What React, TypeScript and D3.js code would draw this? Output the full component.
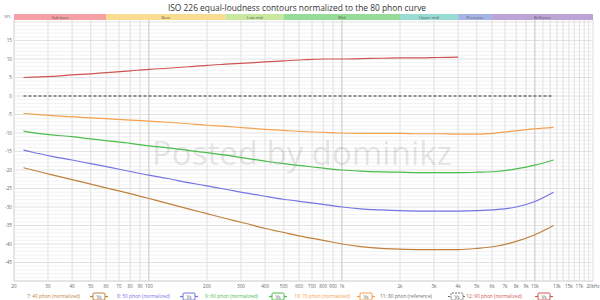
import React from "react";
import * as d3 from "d3";

const freqs = [22.4, 25, 31.5, 40, 50, 63, 80, 100, 125, 160, 200, 250, 315, 400, 500, 630, 800, 1000, 1250, 1600, 2000, 2500, 3150, 4000, 5000, 6300, 8000, 10000, 12500];

const phon40 = [-19.4, -20.0, -21.3, -22.6, -23.8, -25.1, -26.4, -27.7, -29.0, -30.5, -31.8, -33.1, -34.4, -35.8, -36.9, -38.0, -39.0, -40.0, -40.7, -41.2, -41.4, -41.5, -41.5, -41.5, -41.2, -40.6, -39.3, -37.5, -35.0];
const phon50 = [-14.6, -15.2, -16.3, -17.3, -18.3, -19.3, -20.4, -21.4, -22.3, -23.4, -24.3, -25.2, -26.2, -27.1, -27.9, -28.6, -29.3, -30.0, -30.5, -30.8, -31.0, -31.1, -31.1, -31.1, -31.0, -30.7, -30.0, -28.5, -26.0];
const phon60 = [-9.5, -9.9, -10.5, -11.0, -11.6, -12.2, -12.8, -13.5, -14.0, -14.7, -15.3, -16.0, -16.8, -17.6, -18.3, -18.9, -19.5, -20.0, -20.3, -20.5, -20.6, -20.7, -20.7, -20.7, -20.6, -20.4, -19.7, -18.7, -17.3];
const phon70 = [-4.7, -4.9, -5.3, -5.6, -5.9, -6.2, -6.5, -6.8, -7.1, -7.5, -7.9, -8.2, -8.6, -9.0, -9.3, -9.6, -9.8, -10.0, -10.1, -10.1, -10.1, -10.2, -10.2, -10.3, -10.3, -10.0, -9.4, -8.9, -8.5];
const phon80 = [0, 0, 0, 0, 0, 0, 0, 0, 0, 0, 0, 0, 0, 0, 0, 0, 0, 0, 0, 0, 0, 0, 0, 0, 0, 0, 0, 0, 0];
const phon90 = [5.0, 5.1, 5.3, 5.7, 6.0, 6.4, 6.8, 7.2, 7.5, 7.9, 8.3, 8.6, 8.9, 9.2, 9.5, 9.8, 10.0, 10.0, 10.1, 10.2, 10.3, 10.3, 10.4, 10.5];

const seriesNames = ["7: 40 phon (normalized)", "8: 50 phon (normalized)", "9: 60 phon (normalized)", "10: 70 phon (normalized)", "11: 80 phon (reference)", "12: 90 phon (normalized)"];
const seriesValues = [phon40, phon50, phon60, phon70, phon80, phon90];
const seriesColors = ["#c0803c", "#7474e4", "#4cbc4c", "#f4a04c", "#707070", "#d05454"];

const bandNames = ["Sub bass", "Bass", "Low mid", "Mid", "Upper mid", "Presence", "Brilliance"];
const bandEdges = [20, 60, 250, 500, 2000, 4000, 6000, 20000];
const bandColors = ["#f4a0a4", "#f8dc90", "#c8e8a0", "#94dc98", "#98dcd4", "#a4b4e4", "#bca4d4"];

const xTickValues = [20, 30, 40, 50, 60, 70, 80, 90, 100, 200, 300, 400, 500, 600, 700, 800, 900, 1000, 2000, 3000, 4000, 5000, 6000, 7000, 8000, 9000, 10000, 13000, 15000, 17000, 20000];
const xTickLabels = ["20", "30", "40", "50", "60", "70", "80", "90", "100", "200", "300", "400", "500", "600", "700", "800", "900", "1k", "2k", "3k", "4k", "5k", "6k", "7k", "8k", "9k", "10k", "13k", "15k", "17k", "20kHz"];
const yTickValues = [15, 10, 5, 0, -5, -10, -15, -20, -25, -30, -35, -40, -45];

export default function App() {
  const W = 600, H = 300;
  const x = d3.scaleLog().domain([20, 20000]).range([14, 593]);
  const y = d3.scaleLinear().domain([-50, 20]).range([281, 22]);

  const gridFreqs: number[] = [];
  [10, 100, 1000, 10000].forEach((dec) => {
    for (let k = 1; k <= 9; k++) {
      const f = dec * k;
      if (f > 20 && f < 20000) gridFreqs.push(f);
    }
  });
  for (let f = 11000; f < 20000; f += 1000) gridFreqs.push(f);
  const decades = [100, 1000, 10000];

  const minorY = d3.range(-50, 21, 1);

  const line = d3.line<[number, number]>()
    .x((d) => x(d[0]))
    .y((d) => y(d[1]))
    .curve(d3.curveMonotoneX);

  const legendX = [80, 170, 258, 350, 432, 522];
  const iconX = [99, 189, 278, 366, 457, 544];

  return (
    <svg width={W} height={H} style={{ position: "absolute", left: 0, top: 0, fontFamily: "'Open Sans', 'DejaVu Sans', sans-serif" }}>
      <rect x={0} y={0} width={W} height={H} fill="#ffffff" />
      <text x={297} y={11} textAnchor="middle" fontSize={8.4} fill="#333">ISO 226 equal-loudness contours normalized to the 80 phon curve</text>

      {/* grid */}
      {minorY.map((v) => (
        <line key={"gy" + v} x1={14} x2={593} y1={y(v)} y2={y(v)} stroke={v % 5 === 0 ? "#e2e2e2" : "#f2f2f2"} strokeWidth={1} />
      ))}
      {gridFreqs.map((f) => (
        <line key={"gx" + f} x1={x(f)} x2={x(f)} y1={20} y2={281} stroke={decades.includes(f) ? "#c4c4c4" : "#e0e0e0"} strokeWidth={1} />
      ))}
      <line x1={14} x2={14} y1={20} y2={281} stroke="#cfcfcf" />
      <line x1={593} x2={593} y1={20} y2={281} stroke="#e0e0e0" />
      <line x1={14} x2={593} y1={281} y2={281} stroke="#d8d8d8" />

      {/* bands */}
      {bandNames.map((n, i) => (
        <g key={n}>
          <rect x={x(bandEdges[i])} y={14} width={x(bandEdges[i + 1]) - x(bandEdges[i])} height={6} fill={bandColors[i]} />
          <text x={(x(bandEdges[i]) + x(bandEdges[i + 1])) / 2} y={18.7} textAnchor="middle" fontSize={4} fill="#555">{n}</text>
        </g>
      ))}
      <text x={11} y={18} textAnchor="end" fontSize={4} fill="#666">SPL</text>

      {/* y ticks */}
      {yTickValues.map((v) => (
        <text key={"yt" + v} x={12} y={y(v) + 1.6} textAnchor="end" fontSize={4.6} fill="#666">{v}</text>
      ))}
      {/* x ticks */}
      {xTickValues.map((f, i) => (
        <text key={"xt" + f} x={x(f)} y={287.5} textAnchor="middle" fontSize={4.6} fill="#666">{xTickLabels[i]}</text>
      ))}

      {/* watermark */}
      <text x={302} y={165} textAnchor="middle" fontSize={33} fill="#000" fillOpacity={0.11} fontFamily="'Open Sans', sans-serif">Posted by dominikz</text>

      {/* curves */}
      {seriesValues.map((vals, i) => {
        const pts = vals.map((v, j) => [freqs[j], v] as [number, number]);
        return (
          <path key={"s" + i} d={line(pts) || ""} fill="none" stroke={seriesColors[i]} strokeWidth={i === 4 ? 1.3 : 1.2}
            strokeDasharray={i === 4 ? "3,2" : undefined} />
        );
      })}

      {/* legend */}
      {seriesNames.map((n, i) => (
        <g key={"lg" + i}>
          <text x={legendX[i]} y={298} textAnchor="end" fontSize={4.8} fill={seriesColors[i]}>{n}</text>
          <line x1={iconX[i] - 9} x2={iconX[i] + 9} y1={296.5} y2={296.5} stroke={seriesColors[i]} strokeWidth={1.2}
            strokeDasharray={i === 4 ? "2,1" : undefined} />
          <rect x={iconX[i] - 6} y={293} width={12} height={7} rx={1} fill="#fff" stroke={seriesColors[i]} strokeWidth={1}
            strokeDasharray={i === 4 ? "2,1" : undefined} />
          <text x={iconX[i]} y={298.5} textAnchor="middle" fontSize={4.8} fill="#555">Vs</text>
        </g>
      ))}
    </svg>
  );
}
